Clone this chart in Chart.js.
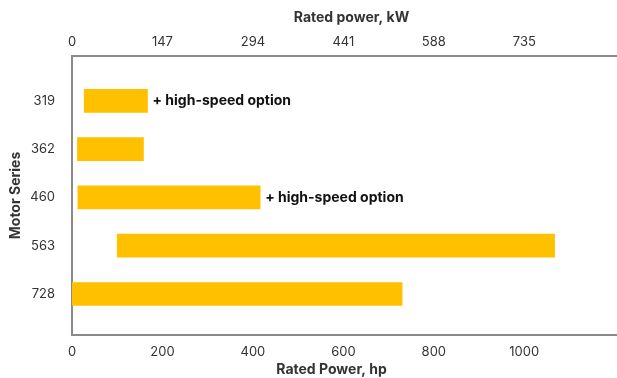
<!DOCTYPE html>
<html>
<head>
<meta charset="utf-8">
<script src="https://cdn.jsdelivr.net/npm/chart.js@4/dist/chart.umd.min.js"></script>
<style>
  html, body { margin: 0; padding: 0; background: #ffffff; }
  #wrap { width: 617px; height: 378px; position: relative; }
</style>
</head>
<body>
<div id="wrap"><canvas id="chart"></canvas></div>
<script>
// Motor series and their rated power ranges (hp)
const series = ['319', '362', '460', '563', '728'];
const hpMin = [27, 12, 13, 100, 0];
const hpMax = [167, 158, 416, 1067, 730];
const notes = ['+ high-speed option', '', '+ high-speed option', '', ''];
const hpTicks = [0, 200, 400, 600, 800, 1000];
const kwTickLabels = ['0', '147', '294', '441', '588', '735'];

const FONT = 'Inter, "Noto Sans", sans-serif';
const TEXT = '#333333';
const AXIS = '#8a8a8a';

// Bold annotations after the bars, and the two horizontal axis titles
const annotations = {
  id: 'annotations',
  afterDatasetsDraw(chart) {
    const { ctx, chartArea } = chart;
    const meta = chart.getDatasetMeta(0);
    ctx.save();
    ctx.font = 'bold 14px ' + FONT;
    ctx.fillStyle = '#111111';
    ctx.textBaseline = 'middle';
    ctx.textAlign = 'left';
    meta.data.forEach((bar, i) => {
      if (!notes[i]) return;
      const x = chart.scales.x.getPixelForValue(hpMax[i]);
      ctx.fillText(notes[i], x + 5, bar.y);
    });
    ctx.fillStyle = TEXT;
    ctx.textAlign = 'center';
    const mid = (chartArea.left + chartArea.right) / 2;
    ctx.fillText('Rated power, kW', mid + 7, 18);
    ctx.fillText('Rated Power, hp', mid - 13, 370);
    ctx.restore();
  }
};

const noGrid = { display: false, drawTicks: false };
const tickFont = { family: FONT, size: 13 };

new Chart(document.getElementById('chart'), {
  type: 'bar',
  data: {
    datasets: [{
      data: series.map((s, i) => ({ x: [hpMin[i], hpMax[i]], y: i })),
      backgroundColor: '#FFC000',
      borderWidth: 0,
      barThickness: 23
    }]
  },
  options: {
    indexAxis: 'y',
    responsive: true,
    maintainAspectRatio: false,
    animation: false,
    layout: { padding: 0 },
    plugins: { legend: { display: false }, tooltip: { enabled: false } },
    scales: {
      x: {
        type: 'linear',
        position: 'bottom',
        min: 0,
        max: 1205,
        afterBuildTicks: axis => { axis.ticks = hpTicks.map(v => ({ value: v })); },
        afterFit: axis => { axis.height = 43; },
        grid: noGrid,
        border: { display: true, color: AXIS, width: 2 },
        ticks: { color: TEXT, font: tickFont, padding: 9, maxRotation: 0, callback: v => String(v) }
      },
      x2: {
        type: 'linear',
        position: 'top',
        min: 0,
        max: 1205,
        afterBuildTicks: axis => { axis.ticks = hpTicks.map(v => ({ value: v })); },
        afterFit: axis => { axis.height = 56; },
        grid: noGrid,
        border: { display: true, color: AXIS, width: 2 },
        ticks: {
          color: TEXT, font: tickFont, padding: 6, maxRotation: 0,
          callback: (v) => kwTickLabels[hpTicks.indexOf(v)]
        }
      },
      y: {
        type: 'linear',
        reverse: true,
        offset: false,
        min: -0.93,
        max: 4.85,
        afterBuildTicks: axis => { axis.ticks = series.map((s, i) => ({ value: i })); },
        afterFit: axis => { axis.width = 72; },
        grid: noGrid,
        border: { display: true, color: AXIS, width: 2 },
        ticks: {
          color: TEXT, font: tickFont, padding: 17,
          callback: (v) => series[v]
        },
        title: { display: true, text: 'Motor Series', color: TEXT, font: { family: FONT, size: 14, weight: 'bold' }, padding: { top: 7, bottom: 0 } }
      }
    }
  },
  plugins: [annotations]
});
</script>
</body>
</html>
